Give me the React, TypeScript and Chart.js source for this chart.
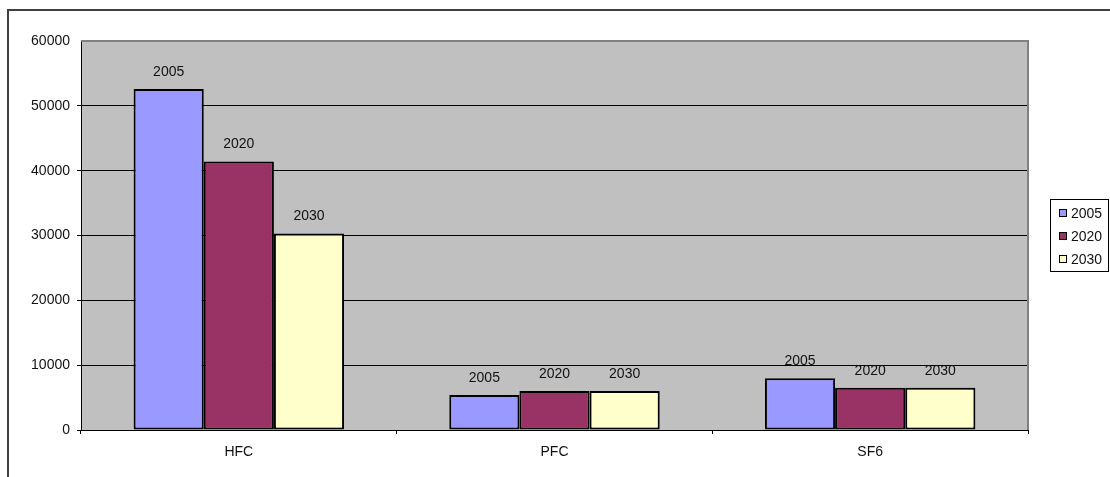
import React, { useEffect, useRef } from "react";
import { Chart, registerables } from "chart.js";

Chart.register(...registerables);

// Emissions by gas group for three reference years
const categories = ["HFC", "PFC", "SF6"];
const years = ["2005", "2020", "2030"];
const values2005 = [52600, 5400, 8000];
const values2020 = [41400, 6000, 6500];
const values2030 = [30300, 6000, 6500];
const yMin = 0;
const yMax = 60000;
const yStep = 10000;

const seriesColors = ["#9999FF", "#993366", "#FFFFCC"];
const FONT = "'Liberation Sans', Arial, sans-serif";

// Grey plot background, frame, value labels and boxed legend
const decorations = {
  id: "decorations",
  beforeDraw(chart: any) {
    const { ctx, chartArea } = chart;
    ctx.save();
    ctx.fillStyle = "#C0C0C0";
    ctx.fillRect(chartArea.left, chartArea.top, chartArea.right - chartArea.left, chartArea.bottom - chartArea.top);
    ctx.restore();
  },
  afterDatasetsDraw(chart: any) {
    const { ctx } = chart;
    ctx.save();
    ctx.font = `14px ${FONT}`;
    ctx.fillStyle = "#111";
    ctx.textAlign = "center";
    ctx.textBaseline = "middle";
    chart.data.datasets.forEach((ds: any, i: number) => {
      const meta = chart.getDatasetMeta(i);
      meta.data.forEach((bar: any) => {
        ctx.fillText(ds.label, bar.x, bar.y - 17);
      });
    });
    ctx.restore();
  },
  afterDraw(chart: any) {
    const { ctx, chartArea } = chart;
    ctx.save();
    // grey frame on top and right of the plot area
    ctx.strokeStyle = "#808080";
    ctx.lineWidth = 2;
    ctx.beginPath();
    ctx.moveTo(chartArea.left, chartArea.top);
    ctx.lineTo(chartArea.right, chartArea.top);
    ctx.lineTo(chartArea.right, chartArea.bottom);
    ctx.stroke();

    // outer chart border
    ctx.strokeStyle = "#404040";
    ctx.lineWidth = 2;
    ctx.beginPath();
    ctx.moveTo(8, 477);
    ctx.lineTo(8, 10);
    ctx.lineTo(1110, 10);
    ctx.stroke();

    // legend
    const lx = 1050.5;
    const ly = 199.5;
    ctx.fillStyle = "#FFFFFF";
    ctx.fillRect(lx, ly, 58, 72);
    ctx.strokeStyle = "#000";
    ctx.lineWidth = 1;
    ctx.strokeRect(lx, ly, 58, 72);
    ctx.font = `14px ${FONT}`;
    ctx.textAlign = "left";
    ctx.textBaseline = "middle";
    chart.data.datasets.forEach((ds: any, i: number) => {
      const cy = 214 + i * 23;
      ctx.fillStyle = ds.backgroundColor;
      ctx.fillRect(1059.5, cy - 4.5, 7, 7);
      ctx.strokeStyle = "#000";
      ctx.strokeRect(1059.5, cy - 4.5, 7, 7);
      ctx.fillStyle = "#111";
      ctx.fillText(ds.label, 1071, cy);
    });
    ctx.restore();
  },
};

export default function App() {
  const canvasRef = useRef<HTMLCanvasElement | null>(null);

  useEffect(() => {
    if (!canvasRef.current) return;
    const seriesValues = [values2005, values2020, values2030];
    const chart = new Chart(canvasRef.current, {
      type: "bar",
      data: {
        labels: categories,
        datasets: years.map((year, i) => ({
          label: year,
          data: seriesValues[i],
          backgroundColor: seriesColors[i],
          borderColor: "#000000",
          borderWidth: 2,
          borderSkipped: false,
          categoryPercentage: 2 / 3,
          barPercentage: 1,
        })),
      },
      options: {
        animation: false,
        responsive: false,
        devicePixelRatio: 1,
        layout: { padding: { left: 0, right: 82, top: 41, bottom: 0 } },
        plugins: {
          legend: { display: false },
          tooltip: { enabled: false },
          title: { display: false },
        },
        scales: {
          x: {
            afterFit(scale: any) {
              scale.height = 47;
            },
            grid: {
              display: true,
              offset: true,
              drawOnChartArea: false,
              drawTicks: true,
              tickLength: 4,
              color: "#000",
            },
            border: { display: true, color: "#000", width: 1 },
            ticks: {
              color: "#111",
              padding: 10,
              font: { family: FONT, size: 14 },
            },
          },
          y: {
            min: yMin,
            max: yMax,
            afterFit(scale: any) {
              scale.width = 81;
            },
            grid: {
              color: (c: any) => (c.tick && c.tick.value === yMax ? "rgba(0,0,0,0)" : "#000"),
              drawTicks: true,
              tickLength: 4,
            },
            border: { display: true, color: "#000", width: 1 },
            ticks: {
              stepSize: yStep,
              color: "#111",
              padding: 7,
              font: { family: FONT, size: 14 },
              callback: (v: any) => String(v),
            },
          },
        },
      },
      plugins: [decorations],
    });
    return () => chart.destroy();
  }, []);

  return (
    <div style={{ position: "absolute", left: 0, top: 0, width: 1110, height: 477, background: "#fff" }}>
      <canvas ref={canvasRef} width={1110} height={477} />
    </div>
  );
}
